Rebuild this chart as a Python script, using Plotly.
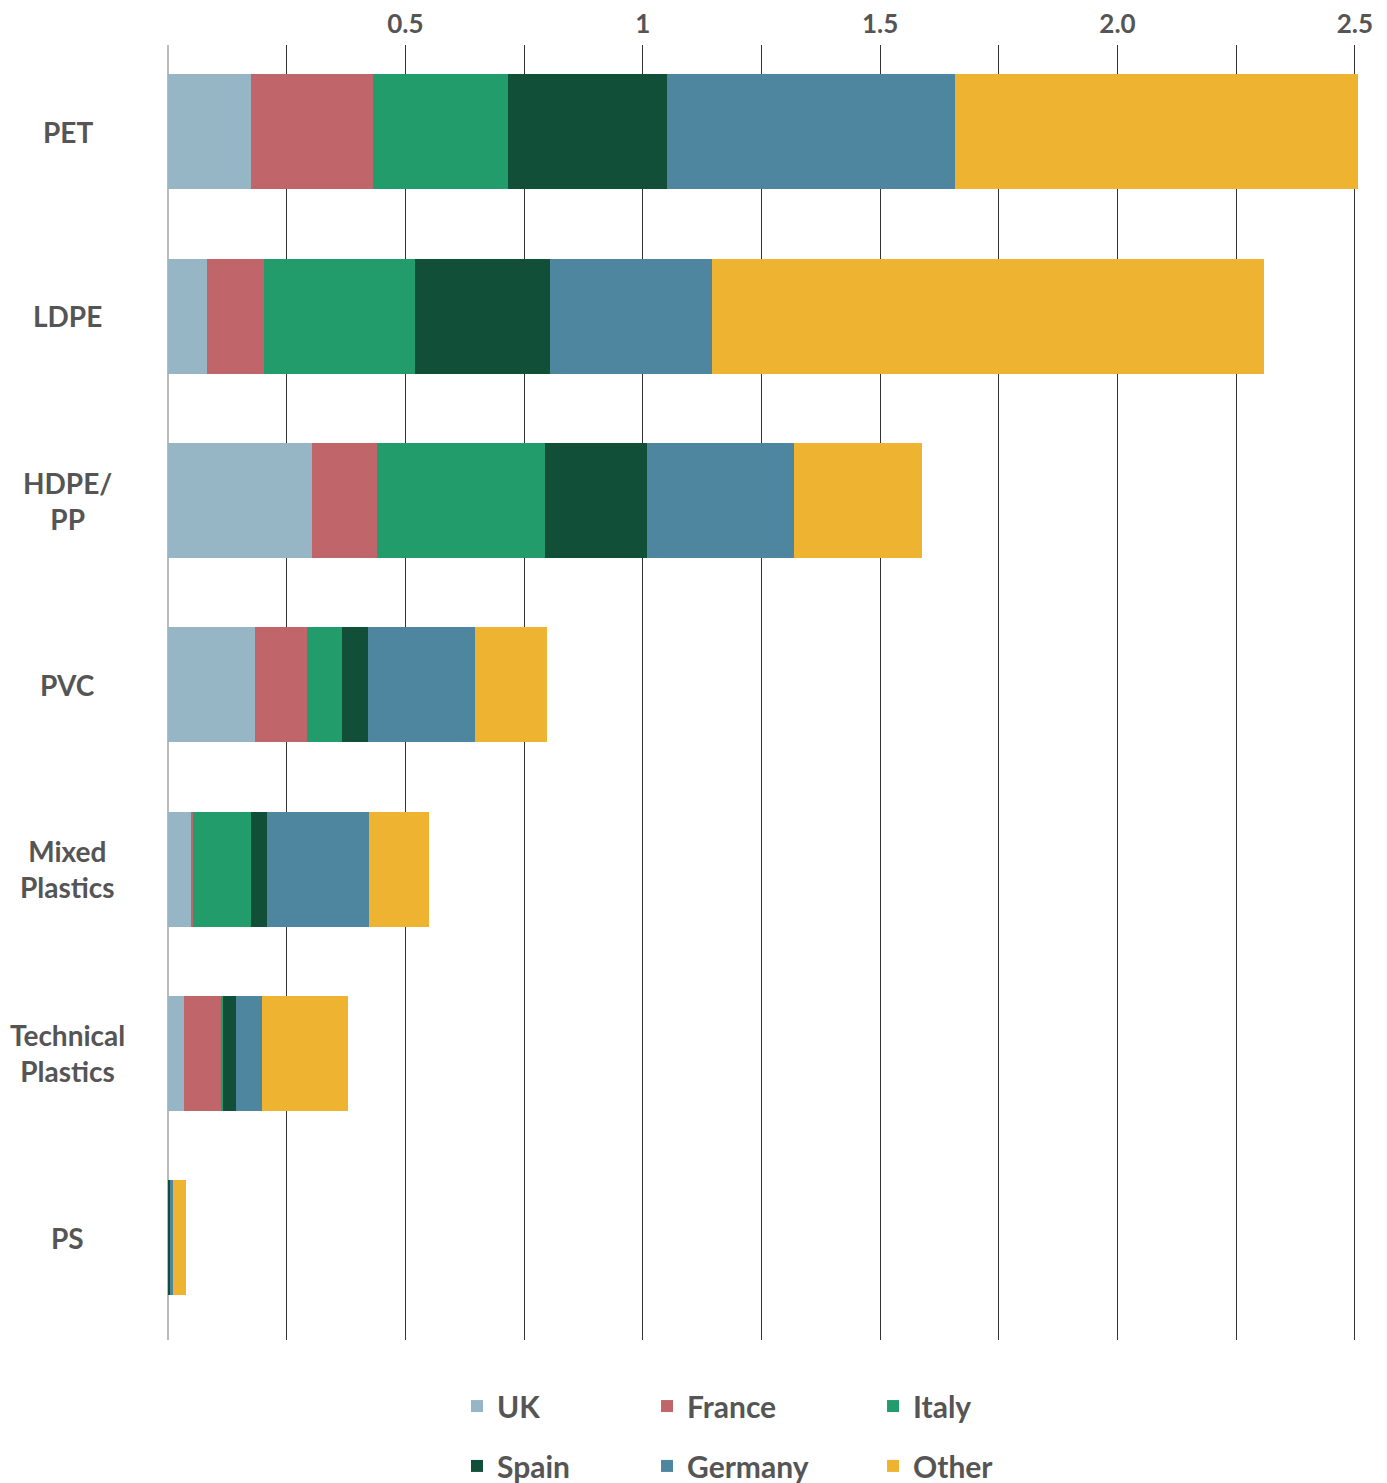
import plotly.graph_objects as go

categories = ["PET", "LDPE", "HDPE/<br>PP", "PVC", "Mixed<br>Plastics", "Technical<br>Plastics", "PS"]

uk      = [0.174, 0.082, 0.304, 0.183, 0.050, 0.034, 0.000]
france  = [0.257, 0.120, 0.136, 0.109, 0.002, 0.079, 0.000]
italy   = [0.285, 0.318, 0.355, 0.075, 0.122, 0.002, 0.002]
spain   = [0.335, 0.285, 0.213, 0.054, 0.035, 0.028, 0.003]
germany = [0.606, 0.341, 0.311, 0.226, 0.214, 0.054, 0.006]
other   = [0.850, 1.163, 0.269, 0.152, 0.127, 0.183, 0.027]

series_names = ["UK", "France", "Italy", "Spain", "Germany", "Other"]
series_values = [uk, france, italy, spain, germany, other]
colors = ["#97b6c5", "#c0666b", "#239c6c", "#124f38", "#4e86a0", "#eeb331"]

tick_vals = [0.25, 0.5, 0.75, 1.0, 1.25, 1.5, 1.75, 2.0, 2.25, 2.5]
tick_text = ["", "0.5", "", "1", "", "1.5", "", "2.0", "", "2.5"]

FONT = "Lato"
TXT = "#555555"

# legend grid: 3 columns x 2 rows (container coordinates)
legend_cols = [0.3256, 0.4634, 0.6273]
legend_rows = [0.0698, 0.0292]

fig = go.Figure()
legend_layout = {}
for i, (name, vals, col) in enumerate(zip(series_names, series_values, colors)):
    lid = "legend" if i == 0 else f"legend{i + 1}"
    fig.add_trace(go.Bar(
        y=categories, x=vals, name=name, orientation="h",
        marker=dict(color=col, line=dict(width=0)),
        legend=lid, hoverinfo="x+name",
    ))
    legend_layout[lid] = dict(
        orientation="h", xref="container", yref="container",
        x=legend_cols[i % 3], xanchor="left",
        y=legend_rows[i // 3], yanchor="top",
        font=dict(family=FONT, size=30, color=TXT, weight="bold"),
        bgcolor="rgba(0,0,0,0)",
    )

annotations = []
for c in categories:
    annotations.append(dict(
        x=-0.084, xref="paper", y=c, yref="y", text=c, showarrow=False,
        xanchor="center", yanchor="middle", align="center",
        font=dict(family=FONT, size=28, color=TXT, weight="bold"),
    ))

fig.update_layout(
    width=1379, height=1475,
    margin=dict(l=160, r=25, t=37, b=143),
    paper_bgcolor="white", plot_bgcolor="white",
    barmode="stack", bargap=0.376,
    font=dict(family=FONT, color=TXT),
    xaxis=dict(
        side="top", range=[0, 2.515], automargin=False,
        tickvals=tick_vals, ticktext=tick_text,
        tickfont=dict(family=FONT, size=26, color=TXT, weight="bold"),
        showgrid=True, gridcolor="#333333", gridwidth=1,
        zeroline=True, zerolinecolor="#bbbbbb", zerolinewidth=1.5,
        showline=False, ticks="", ticklabelstandoff=6,
    ),
    yaxis=dict(
        categoryorder="array", categoryarray=categories, automargin=False,
        range=[6.555, -0.472], showticklabels=False, showgrid=False,
        zeroline=False, showline=False, ticks="",
    ),
    annotations=annotations,
    showlegend=True,
    **legend_layout,
)

fig.write_html("out.html")
